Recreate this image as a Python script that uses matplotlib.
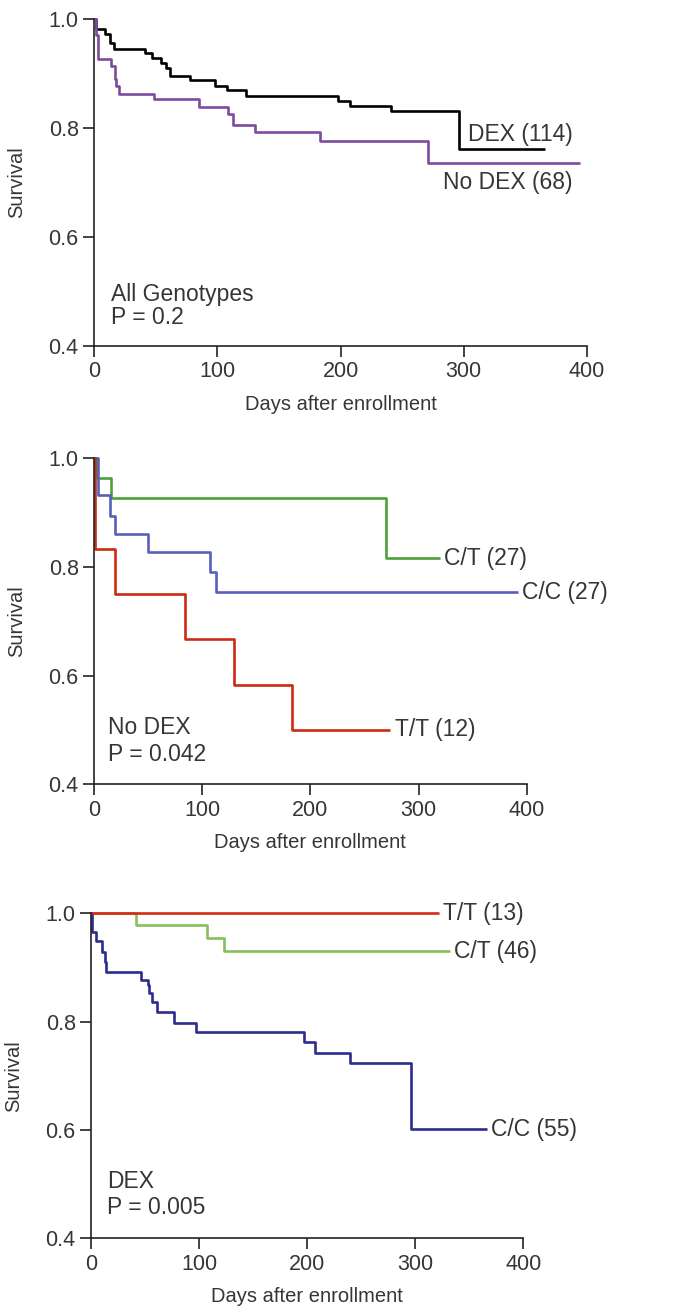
import numpy as np
import matplotlib.pyplot as plt

plt.rcParams['font.family'] = ['Liberation Sans', 'DejaVu Sans']

# Panel 1: all genotypes
dex_days = [0, 2, 9, 13, 16, 41, 47, 54, 58, 62, 78, 98, 108, 123, 198, 208, 241, 296, 366]
dex_surv = [1.0, 0.981, 0.972, 0.956, 0.945, 0.938, 0.929, 0.920, 0.910, 0.896, 0.888,
            0.878, 0.869, 0.858, 0.849, 0.840, 0.831, 0.761, 0.761]
nodex_days = [0, 1.6, 3.5, 14, 17, 18, 20, 49, 85, 109, 113, 131, 183, 271, 394]
nodex_surv = [1.0, 0.97, 0.926, 0.914, 0.89, 0.877, 0.863, 0.854, 0.839, 0.825, 0.806,
              0.792, 0.776, 0.736, 0.736]

# Panel 2: No DEX by genotype
nd_ct_days = [0, 3, 16, 270, 320]
nd_ct_surv = [1.0, 0.963, 0.926, 0.816, 0.816]
nd_cc_days = [0, 4, 15, 19, 50, 107, 113, 392]
nd_cc_surv = [1.0, 0.932, 0.894, 0.861, 0.827, 0.791, 0.753, 0.753]
nd_tt_days = [0, 1, 19, 84, 129, 183, 274]
nd_tt_surv = [1.0, 0.833, 0.750, 0.667, 0.583, 0.500, 0.500]

# Panel 3: DEX by genotype
d_tt_days = [0, 322]
d_tt_surv = [1.0, 1.0]
d_ct_days = [0, 42, 107, 123, 332]
d_ct_surv = [1.0, 0.978, 0.954, 0.930, 0.930]
d_cc_days = [0, 0.6, 4.3, 10.5, 13, 14, 46, 52.7, 54, 56.7, 61.4, 76.8, 96.8, 197, 207,
             240, 296.4, 366]
d_cc_surv = [1.0, 0.966, 0.948, 0.929, 0.911, 0.892, 0.877, 0.868, 0.852, 0.837, 0.817,
             0.798, 0.780, 0.763, 0.743, 0.724, 0.601, 0.601]

FS = 16.5      # annotations
TS = 15.5      # tick labels
LS = 14.5      # axis labels
TXT = '#363636'

fig = plt.figure(figsize=(6.74, 13.13), dpi=100)
ax1 = fig.add_axes([0.1395, 0.7365, 0.7314, 0.2490])
ax2 = fig.add_axes([0.1395, 0.4027, 0.6420, 0.2483])
ax3 = fig.add_axes([0.1350, 0.0569, 0.6414, 0.2475])


def style(ax):
    ax.set_xlim(0, 400)
    ax.set_ylim(0.4, 1.0)
    ax.set_xticks([0, 100, 200, 300, 400])
    ax.set_yticks([0.4, 0.6, 0.8, 1.0])
    ax.set_yticklabels(['0.4', '0.6', '0.8', '1.0'])
    for s in ['top', 'right']:
        ax.spines[s].set_visible(False)
    for s in ['left', 'bottom']:
        ax.spines[s].set_color('#222222')
        ax.spines[s].set_linewidth(1.2)
    ax.tick_params(direction='out', length=8, width=1.2, labelsize=TS,
                   colors='#222222', labelcolor=TXT, pad=3)
    ax.set_xlabel('Days after enrollment', fontsize=LS, color=TXT, labelpad=9)
    ax.set_ylabel('Survival', fontsize=LS, color=TXT, labelpad=16)


def km(ax, days, surv, color, label=None):
    ax.step(days, surv, where='post', color=color, lw=1.9, clip_on=False,
            solid_capstyle='butt')
    if label:
        ax.annotate(label, (days[-1], surv[-1]), xytext=(3, 0), textcoords='offset points',
                    va='center', ha='left', fontsize=FS, color=TXT)


# Panel 1
km(ax1, dex_days, dex_surv, 'black')
km(ax1, nodex_days, nodex_surv, '#7d4b9e')
ax1.text(303.5, 0.788, 'DEX (114)', fontsize=FS, color=TXT, va='center')
ax1.text(283, 0.700, 'No DEX (68)', fontsize=FS, color=TXT, va='center')
ax1.text(13.5, 0.494, 'All Genotypes', fontsize=FS, color=TXT, va='center')
ax1.text(13.5, 0.452, 'P = 0.2', fontsize=FS, color=TXT, va='center')
style(ax1)

# Panel 2
km(ax2, nd_ct_days, nd_ct_surv, '#4fa03a', 'C/T (27)')
km(ax2, nd_cc_days, nd_cc_surv, '#5560b8', 'C/C (27)')
km(ax2, nd_tt_days, nd_tt_surv, '#cc2a12', 'T/T (12)')
ax2.text(13, 0.504, 'No DEX', fontsize=FS, color=TXT, va='center')
ax2.text(13, 0.454, 'P = 0.042', fontsize=FS, color=TXT, va='center')
style(ax2)

# Panel 3
km(ax3, d_ct_days, d_ct_surv, '#86c05a', 'C/T (46)')
km(ax3, d_cc_days, d_cc_surv, '#2c2c8e', 'C/C (55)')
km(ax3, d_tt_days, d_tt_surv, '#d42a18', 'T/T (13)')
ax3.text(14.5, 0.505, 'DEX', fontsize=FS, color=TXT, va='center')
ax3.text(14.5, 0.457, 'P = 0.005', fontsize=FS, color=TXT, va='center')
style(ax3)

fig.savefig('out.png', dpi=100)
